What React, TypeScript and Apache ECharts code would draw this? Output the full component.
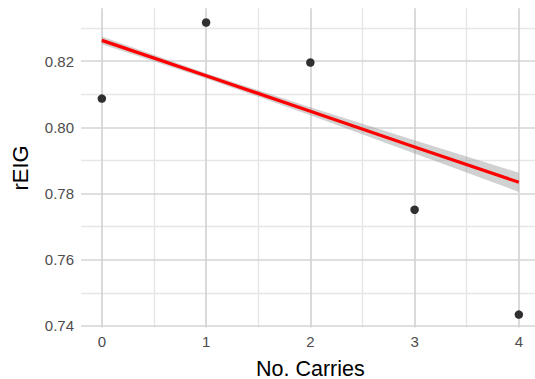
import React, { useEffect, useRef } from "react";
import * as echarts from "echarts";

const carries = [0, 1, 2, 3, 4];
const reig = [0.8087, 0.8317, 0.8196, 0.7751, 0.7434];
const fitX = [0, 1, 2, 3, 4];
const fitY = [0.8263, 0.8156, 0.8049, 0.7941, 0.7834];
const bandHigh = [0.8275, 0.8164, 0.8061, 0.7961, 0.7863];
const bandLow = [0.8251, 0.8148, 0.8037, 0.7921, 0.7805];
const xTicks = [0, 1, 2, 3, 4];
const xMinor = [0.5, 1.5, 2.5, 3.5];
const yTicks = [0.74, 0.76, 0.78, 0.8, 0.82];
const yMinor = [0.75, 0.77, 0.79, 0.81, 0.83];

const FONT = "'Liberation Sans', Arial, sans-serif";

export default function App() {
  const ref = useRef<HTMLDivElement>(null);
  useEffect(() => {
    if (!ref.current) return;
    const chart = echarts.init(ref.current, undefined, { renderer: "svg" });
    const major = { color: "#d4d4d4", width: 1.7, type: "solid" };
    const minor = { color: "#e6e6e6", width: 1.4, type: "solid" };
    const gridLines = [
      ...yMinor.map((v) => ({ yAxis: v, lineStyle: minor })),
      ...xMinor.map((v) => ({ xAxis: v, lineStyle: minor })),
      ...yTicks.map((v) => ({ yAxis: v, lineStyle: major })),
      ...xTicks.map((v) => ({ xAxis: v, lineStyle: major })),
    ];
    chart.setOption({
      animation: false,
      backgroundColor: "#ffffff",
      grid: {
        left: 81,
        top: 8.3,
        width: 458.7,
        height: 319.2,
        containLabel: false,
        outerBoundsMode: "none",
      },
      xAxis: {
        type: "value",
        min: -0.2,
        max: 4.2,
        name: "No. Carries",
        nameLocation: "middle",
        nameGap: 31,
        nameTextStyle: { fontFamily: FONT, fontSize: 21.5, lineHeight: 20, color: "#000" },
        axisLine: { show: false },
        axisTick: { show: false },
        splitLine: { show: false },
        axisLabel: {
          customValues: xTicks,
          fontFamily: FONT,
          fontSize: 15,
          color: "#4d4d4d",
          margin: 6,
          showMinLabel: true,
          showMaxLabel: true,
          formatter: (v: number) => String(v),
        },
      },
      yAxis: {
        type: "value",
        min: 0.7395,
        max: 0.836,
        name: "rEIG",
        nameLocation: "middle",
        nameGap: 50,
        nameRotate: 90,
        nameTextStyle: { fontFamily: FONT, fontSize: 22, color: "#000" },
        axisLine: { show: false },
        axisTick: { show: false },
        splitLine: { show: false },
        axisLabel: {
          customValues: yTicks,
          fontFamily: FONT,
          fontSize: 15,
          color: "#4d4d4d",
          margin: 7,
          formatter: (v: number) => v.toFixed(2),
        },
      },
      series: [
        {
          type: "line",
          data: [],
          silent: true,
          z: 0,
          markLine: {
            silent: true,
            z: 0,
            zlevel: 0,
            symbol: ["none", "none"],
            label: { show: false },
            emphasis: { disabled: true },
            data: gridLines,
          },
        },
        {
          type: "custom",
          silent: true,
          z: 2,
          data: [[0]],
          renderItem: (_params: any, api: any) => {
            const pts: number[][] = [];
            for (let i = 0; i < fitX.length; i++) pts.push(api.coord([fitX[i], bandHigh[i]]));
            for (let i = fitX.length - 1; i >= 0; i--) pts.push(api.coord([fitX[i], bandLow[i]]));
            return {
              type: "polygon",
              shape: { points: pts },
              style: { fill: "rgba(153,153,153,0.45)", stroke: "none" },
            };
          },
        },
        {
          type: "line",
          data: fitX.map((x, i) => [x, fitY[i]]),
          symbol: "none",
          lineStyle: { color: "#ff0000", width: 3.2 },
          silent: true,
          z: 3,
        },
        {
          type: "scatter",
          data: carries.map((x, i) => [x, reig[i]]),
          symbolSize: 8.5,
          itemStyle: { color: "#303030", borderWidth: 0, opacity: 1 },
          silent: true,
          z: 4,
        },
      ],
    });
    return () => chart.dispose();
  }, []);
  return (
    <div
      ref={ref}
      style={{ position: "fixed", left: 0, top: 0, width: 535, height: 379, background: "#fff" }}
    />
  );
}
